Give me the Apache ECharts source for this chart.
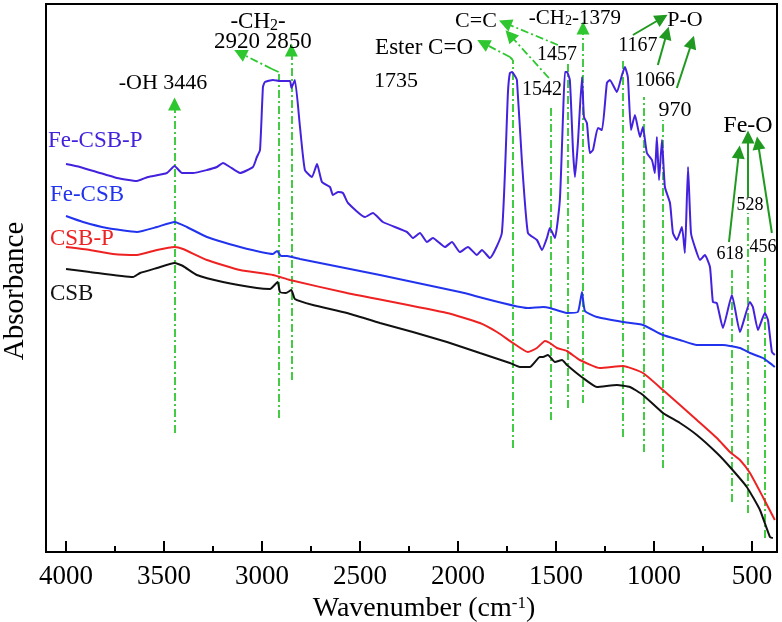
<!DOCTYPE html>
<html><head><meta charset="utf-8">
<script src="https://cdn.jsdelivr.net/npm/echarts@6/dist/echarts.min.js"></script>
<style>html,body{margin:0;padding:0;background:#fff}#c{width:782px;height:622px}</style>
</head><body><div id="c"></div>
<script>
const SERIF = '"Liberation Serif","Times New Roman",serif';

// x-axis tick values (wavenumber, cm-1)
const xMajorTicks = [4000, 3500, 3000, 2500, 2000, 1500, 1000, 500];
const xMinorTicks = [4000, 3750, 3500, 3250, 3000, 2750, 2500, 2250, 2000, 1750, 1500, 1250, 1000, 750, 500];

// spectra: [wavenumber, absorbance (arbitrary, offset units)]
const feCsbP = [[4000,388],[3929,385],[3740,374],[3638,371],[3582,375],[3485,379],[3446,386],[3408,379],[3352,379],[3281,382],[3230,385],[3199,389],[3163,385],[3112,379],[3046,385],[3026,395],[3010,402],[2995,465],[2985,470],[2944,472],[2908,471],[2857,471],[2850,464],[2832,472],[2806,425],[2781,382],[2745,375],[2719,388],[2694,370],[2653,365],[2638,357],[2612,360],[2587,359],[2561,349],[2474,335],[2434,339],[2383,330],[2260,320],[2230,314],[2194,319],[2158,310],[2128,314],[2066,305],[2031,310],[1990,300],[1949,305],[1903,297],[1878,302],[1837,294],[1776,319],[1745,459],[1735,479],[1724,480],[1709,476],[1699,472],[1674,392],[1643,319],[1597,312],[1571,302],[1546,314],[1531,324],[1505,314],[1480,352],[1464,435],[1454,480],[1444,480],[1429,472],[1413,402],[1403,375],[1388,409],[1367,475],[1357,435],[1342,429],[1327,399],[1311,402],[1286,424],[1265,422],[1240,469],[1225,472],[1189,460],[1163,477],[1148,485],[1133,475],[1117,422],[1097,437],[1071,415],[1056,425],[1036,399],[1010,392],[995,379],[985,415],[974,372],[959,412],[944,365],[918,349],[903,319],[883,312],[857,325],[842,299],[826,385],[811,319],[791,305],[765,292],[740,297],[714,285],[699,250],[679,249],[648,224],[602,257],[561,220],[510,250],[495,245],[469,222],[434,239],[418,232],[398,200],[383,197]];
const feCsb = [[4000,336],[3913,330],[3791,324],[3638,320],[3536,325],[3446,330],[3383,325],[3281,315],[3112,305],[2944,298],[2923,301],[2903,296],[2872,296],[2847,295],[2806,293],[2398,277],[1990,260],[1643,244],[1566,245],[1531,244],[1444,239],[1388,240],[1367,260],[1352,241],[1291,235],[1158,230],[1056,227],[954,217],[867,212],[781,207],[648,207],[561,204],[510,199],[444,194],[383,185]];
const csbP = [[4000,305],[3878,302],[3760,298],[3638,297],[3536,302],[3446,305],[3403,303],[3281,292],[3112,282],[2944,277],[2857,272],[2566,259],[2056,239],[1888,229],[1801,220],[1719,209],[1643,200],[1597,204],[1556,211],[1531,209],[1495,204],[1444,201],[1378,192],[1276,184],[1158,186],[1056,179],[954,162],[867,147],[781,132],[679,114],[612,100],[561,92],[510,79],[444,55],[383,32]];
const csb = [[4000,283],[3878,280],[3658,275],[3622,279],[3536,284],[3446,289],[3403,286],[3332,277],[3199,270],[3026,264],[2959,263],[2920,270],[2908,260],[2878,259],[2850,262],[2832,253],[2740,247],[2566,239],[2398,229],[2230,220],[2056,210],[1888,199],[1735,189],[1684,185],[1633,185],[1582,195],[1566,195],[1541,197],[1505,190],[1469,192],[1444,187],[1362,174],[1291,165],[1189,167],[1122,165],[1056,157],[954,139],[867,129],[781,117],[679,99],[612,85],[526,65],[459,42],[408,15],[393,14]];

const seriesNames = ['Fe-CSB-P', 'Fe-CSB', 'CSB-P', 'CSB'];
const seriesColors = ['#4422dd', '#2233ee', '#ee2222', '#111111'];
// legend-like name positions [wavenumber, absorbance]
const namePositions = [[4092,411],[4082,357],[4082,313],[4082,258]];

// peak marker segments (dash-dot), without and with arrowheads
const dashPlain = [
  [[1526,132],[1526,447]], [[1051,100],[1051,455]], [[954,84],[954,432]],
  [[1158,115],[1158,494]], [[1439,144],[1439,490]], [[602,50],[602,285]],
  [[520,39],[520,339]], [[434,14],[434,295]],
  [[2915,134],[2915,480]], [[2915,480],[2949,483]],
  [[1720,104],[1720,492]], [[1720,492],[1735,495]]
];
const dashArrow = [
  [[3446,119],[3446,448]], [[2949,483],[3112,499]], [[2850,172],[2850,502]],
  [[1735,495],[1872,509]], [[1536,474],[1735,517]], [[1490,507],[1760,529]],
  [[1362,149],[1362,524]]
];
const solidArrow = [
  [[1107,517],[959,534]], [[980,487],[934,519]], [[883,464],[806,510]],
  [[617,310],[566,400]], [[520,355],[520,415]], [[398,319],[469,409]]
];
// annotation texts: [text, wavenumber, absorbance, fontSize]
const annotationTexts = [
  ['-OH 3446', 3505, 469, 22],
  ['{a|-CH}{s|2}{a|-}', 3020, 530, 23],
  ['2920 2850', 2995, 510, 23],
  ['Ester C=O', 2173, 504, 23],
  ['1735', 2316, 471, 22],
  ['C=C', 1908, 531, 22],
  ['{a|-CH}{s|2}{a|-1379}', 1403, 534, 21],
  ['1457', 1495, 497, 20],
  ['1542', 1571, 462, 20],
  ['1167', 1082, 506, 20],
  ['P-O', 842, 532, 22],
  ['1066', 995, 471, 20],
  ['970', 893, 442, 22],
  ['Fe-O', 520, 426, 24],
  ['618', 612, 298, 18],
  ['528', 510, 347, 18],
  ['456', 444, 305, 18]
];

const spectra = [feCsbP, feCsb, csbP, csb];
const chart = echarts.init(document.getElementById('c'), null, {renderer: 'canvas'});

const series = spectra.map((d, i) => ({
  name: seriesNames[i], type: 'line', data: d, xAxisIndex: 0,
  showSymbol: false, symbol: 'none', smooth: 0.15,
  lineStyle: {color: seriesColors[i], width: 2}, z: 3, silent: true
}));

const green = '#2fc72f';
const darkGreen = '#1f991f';
series.push({
  type: 'lines', coordinateSystem: 'cartesian2d', xAxisIndex: 0, silent: true, z: 2,
  data: dashPlain.map(c => ({coords: c})), symbol: ['none', 'none'],
  lineStyle: {color: green, width: 1.8, type: [8, 3, 2, 3], opacity: 1}
});
series.push({
  type: 'lines', coordinateSystem: 'cartesian2d', xAxisIndex: 0, silent: true, z: 2,
  data: dashArrow.map(c => ({coords: c})), symbol: ['none', 'triangle'], symbolSize: [10, 13],
  lineStyle: {color: green, width: 1.8, type: [8, 3, 2, 3], opacity: 1}
});
series.push({
  type: 'lines', coordinateSystem: 'cartesian2d', xAxisIndex: 0, silent: true, z: 2,
  data: solidArrow.map(c => ({coords: c})), symbol: ['none', 'triangle'], symbolSize: [10, 13],
  lineStyle: {color: darkGreen, width: 2, type: 'solid', opacity: 1}
});

const textItems = annotationTexts.map(t => ({
  value: [t[1], t[2]],
  label: {
    show: true, position: 'inside', formatter: t[0], fontSize: t[3], fontFamily: SERIF, color: '#000',
    textBorderWidth: 0, textShadowBlur: 0, opacity: 1,
    rich: {
      a: {fontSize: t[3], fontFamily: SERIF, color: '#000', lineHeight: t[3], verticalAlign: 'bottom', textBorderWidth: 0},
      s: {fontSize: Math.round(t[3] * 0.68), fontFamily: SERIF, color: '#000', lineHeight: 12, verticalAlign: 'bottom', textBorderWidth: 0}
    }
  }
}));
const nameItems = namePositions.map((p, i) => ({
  value: p,
  label: {show: true, position: 'inside', align: 'left', formatter: seriesNames[i],
    fontSize: 23, fontFamily: SERIF, color: seriesColors[i], textBorderWidth: 0, opacity: 1}
}));
series.push({
  type: 'scatter', xAxisIndex: 0, symbolSize: 0, silent: true, z: 5,
  itemStyle: {color: '#000', opacity: 1},
  data: textItems.concat(nameItems)
});

chart.setOption({
  animation: false,
  backgroundColor: '#fff',
  grid: {left: 46, right: 5, top: 4, bottom: 70, containLabel: false, outerBoundsMode: 'none',
    show: true, borderColor: '#000', borderWidth: 2, backgroundColor: 'transparent'},
  xAxis: [{
    type: 'value', inverse: true, min: 372, max: 4102, position: 'bottom',
    axisLine: {show: true, lineStyle: {color: '#000', width: 2}},
    axisTick: {show: true, inside: true, length: 11, customValues: xMajorTicks, lineStyle: {color: '#000', width: 2}},
    axisLabel: {show: true, customValues: xMajorTicks, formatter: v => String(v), fontSize: 27, fontFamily: SERIF, color: '#000', margin: 11},
    splitLine: {show: false},
    name: 'Wavenumber (cm{sup|-1})', nameLocation: 'middle', nameGap: 36,
    nameTextStyle: {fontSize: 28, fontFamily: SERIF, color: '#000', padding: [0, 0, 0, 25],
      rich: {sup: {fontSize: 17, fontFamily: SERIF, color: '#000', lineHeight: 12, verticalAlign: 'top'}}}
  }, {
    type: 'value', inverse: true, min: 372, max: 4102, position: 'bottom', offset: 0,
    axisLine: {show: false},
    axisTick: {show: true, inside: true, length: 6, customValues: xMinorTicks, lineStyle: {color: '#000', width: 2}},
    axisLabel: {show: false}, splitLine: {show: false}
  }],
  yAxis: {
    type: 'value', min: 0, max: 548,
    axisLine: {show: true, lineStyle: {color: '#000', width: 2}},
    axisTick: {show: false}, axisLabel: {show: false}, splitLine: {show: false},
    name: 'Absorbance', nameLocation: 'middle', nameGap: 16, nameRotate: 90,
    nameTextStyle: {fontSize: 29, fontFamily: SERIF, color: '#000', padding: [0, 26, 0, 0]}
  },
  series: series
});
</script></body></html>
